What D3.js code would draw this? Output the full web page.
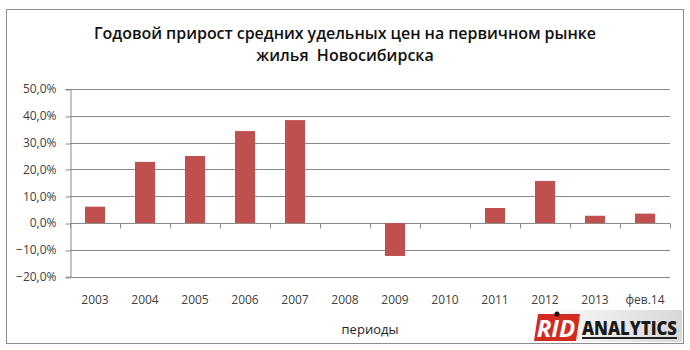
<!DOCTYPE html>
<html>
<head>
<meta charset="utf-8">
<script src="https://cdn.jsdelivr.net/npm/d3@7"></script>
<style>
  body { margin: 0; background: #fff; }
  text { font-family: "Open Sans", "Noto Sans", sans-serif; white-space: pre; }
</style>
</head>
<body>
<script>
const width = 690;
const height = 350;
const margin = { top: 89, right: 20, bottom: 74, left: 70 };

const periods = ["2003", "2004", "2005", "2006", "2007", "2008", "2009", "2010", "2011", "2012", "2013", "фев.14"];
const growth = [6.1, 22.8, 25.0, 34.3, 38.4, 0, -12.3, 0, 5.6, 15.7, 2.7, 3.5];
const yTicks = [-20, -10, 0, 10, 20, 30, 40, 50];
const titleLines = ["Годовой прирост средних удельных цен на первичном рынке", "жилья  Новосибирска"];

const svg = d3.select("body")
    .append("svg")
    .attr("width", width)
    .attr("height", height);

// outer frame
svg.append("rect")
    .attr("x", 6.5).attr("y", 9.5)
    .attr("width", 677).attr("height", 334)
    .attr("fill", "#fff")
    .attr("stroke", "#8c8c8c");

let xScale = d3.scaleBand()
    .domain(periods)
    .range([margin.left, width - margin.right])
    .paddingInner(0.6)
    .paddingOuter(0.3);

let yScale = d3.scaleLinear()
    .domain([-20, 50])
    .range([height - margin.bottom + 0.6, margin.top]);

// gridlines
svg.append("g")
    .selectAll("line")
    .data(yTicks)
    .enter()
    .append("line")
    .attr("x1", margin.left)
    .attr("x2", width - margin.right)
    .attr("y1", d => Math.round(yScale(d)) + 0.5)
    .attr("y2", d => Math.round(yScale(d)) + 0.5)
    .attr("stroke", "#8a8a8a");

// y axis
let yAxis = d3.axisLeft(yScale)
    .tickValues(yTicks)
    .tickSize(5)
    .tickFormat(d => d3.format(".1f")(d).replace(".", ",") + "%");

let gy = svg.append("g")
    .attr("transform", `translate(${margin.left + 0.5}, 0)`)
    .call(yAxis);
gy.select(".domain").attr("stroke", "#8a8a8a");
gy.selectAll(".tick line").attr("stroke", "#8a8a8a")
    .attr("transform", d => `translate(0, ${Math.round(yScale(d)) + 0.5 - yScale(d)})`);
gy.selectAll(".tick text")
    .attr("x", -14)
    .attr("fill", "#404040")
    .attr("font-size", 12)
    .attr("font-family", "Open Sans, sans-serif");

// category ticks on the zero line
let step = xScale.step();
let boundaries = d3.range(periods.length + 1).map(i => margin.left + i * step);
let zeroY = Math.round(yScale(0)) + 0.5;
svg.append("g")
    .selectAll("line")
    .data(boundaries)
    .enter()
    .append("line")
    .attr("x1", d => Math.round(d) + 0.5)
    .attr("x2", d => Math.round(d) + 0.5)
    .attr("y1", zeroY)
    .attr("y2", zeroY + 5)
    .attr("stroke", "#8a8a8a");

// bars
svg.selectAll("rect.bar")
    .data(growth)
    .enter()
    .append("rect")
    .attr("class", "bar")
    .attr("x", (d, i) => xScale(periods[i]))
    .attr("y", d => yScale(Math.max(0, d)))
    .attr("width", xScale.bandwidth())
    .attr("height", d => Math.abs(yScale(d) - yScale(0)))
    .attr("fill", "#c0504d");

// category labels
svg.append("g")
    .selectAll("text")
    .data(periods)
    .enter()
    .append("text")
    .attr("x", d => xScale(d) + xScale.bandwidth() / 2)
    .attr("y", 304)
    .attr("text-anchor", "middle")
    .attr("font-size", 12)
    .attr("fill", "#404040")
    .text(d => d);

// axis title
svg.append("text")
    .attr("x", (margin.left + width - margin.right) / 2)
    .attr("y", 334)
    .attr("text-anchor", "middle")
    .attr("font-size", 13)
    .attr("fill", "#222")
    .text("периоды");

// title
svg.append("g")
    .selectAll("text")
    .data(titleLines)
    .enter()
    .append("text")
    .attr("x", 345)
    .attr("y", (d, i) => 39 + i * 22)
    .attr("text-anchor", "middle")
    .attr("font-size", 16)
    .attr("font-weight", 600)
    .attr("fill", "#111")
    .attr("textLength", (d, i) => i == 0 ? 502 : null)
    .text(d => d);

// logo
let logo = svg.append("g").attr("transform", "translate(532, 310)");
let grad = svg.append("defs").append("linearGradient")
    .attr("id", "logoBg").attr("x1", 0).attr("x2", 1);
grad.append("stop").attr("offset", 0).attr("stop-color", "#ffffff");
grad.append("stop").attr("offset", 1).attr("stop-color", "#d8d8d8");
logo.append("rect").attr("x", 0).attr("y", 0).attr("width", 150).attr("height", 32).attr("fill", "url(#logoBg)");
logo.append("path").attr("d", "M6,4 L48,4 L44,31 L2,31 Z").attr("fill", "#d42a20");
logo.append("text")
    .attr("x", 24).attr("y", 27)
    .attr("text-anchor", "middle")
    .attr("font-size", 24)
    .attr("font-weight", "bold")
    .attr("font-style", "italic")
    .attr("fill", "#fff")
    .attr("font-family", "Liberation Sans Narrow, Liberation Sans, sans-serif")
    .text("RID");
logo.append("circle").attr("cx", 25).attr("cy", 4).attr("r", 2.5).attr("fill", "#111");
logo.append("text")
    .attr("x", 50).attr("y", 25)
    .attr("font-size", 19)
    .attr("font-weight", 900)
    .attr("fill", "#1a1a1a")
    .attr("textLength", 95)
    .attr("lengthAdjust", "spacingAndGlyphs")
    .attr("font-family", "DejaVu Sans Condensed, DejaVu Sans, sans-serif")
    .text("ANALYTICS");
logo.append("rect").attr("x", 50).attr("y", 27).attr("width", 95).attr("height", 2).attr("fill", "#222");
</script>
</body>
</html>
